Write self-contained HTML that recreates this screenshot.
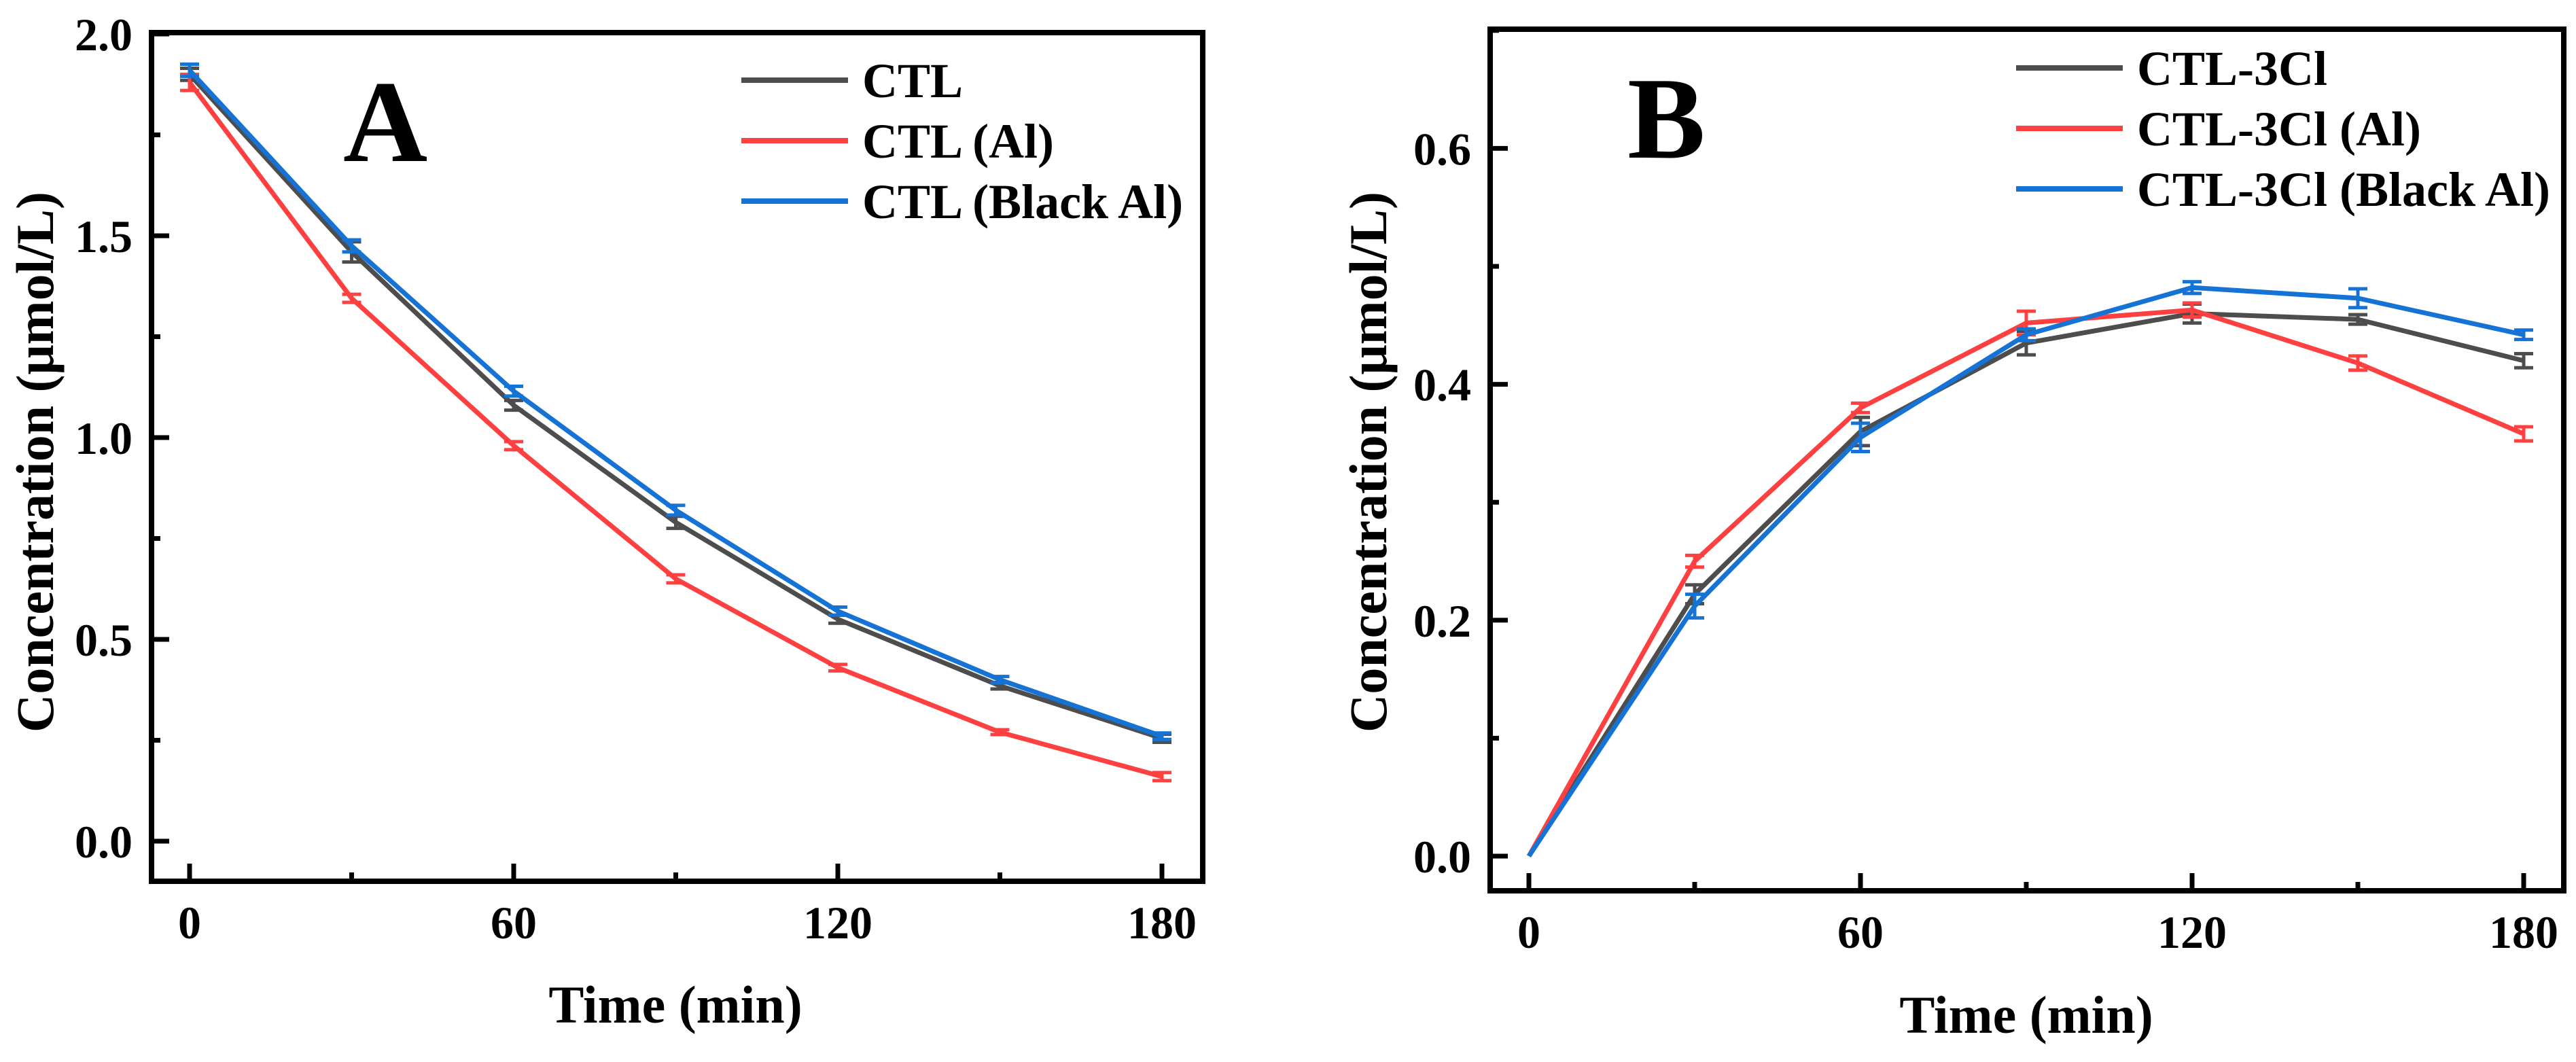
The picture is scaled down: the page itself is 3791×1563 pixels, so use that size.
<!DOCTYPE html>
<html><head><meta charset="utf-8">
<style>
html,body{margin:0;padding:0;background:#fff;}
svg{display:block;font-family:"Liberation Serif",serif;font-weight:bold;}
</style></head>
<body>
<svg id="fig" width="3791" height="1563" viewBox="0 0 3791 1563" xmlns="http://www.w3.org/2000/svg">
<rect width="3791" height="1563" fill="#fff"/>
</svg>
<script>
const timesMin = [0, 30, 60, 90, 120, 150, 180];
const aSeriesNames = ["CTL", "CTL (Al)", "CTL (Black Al)"];
const aCtl = [1.90, 1.46, 1.08, 0.79, 0.55, 0.385, 0.255];
const aAl = [1.88, 1.345, 0.98, 0.65, 0.43, 0.27, 0.16];
const aBlackAl = [1.91, 1.475, 1.115, 0.82, 0.57, 0.40, 0.26];
const aCtlErr = [0.015, 0.025, 0.012, 0.015, 0.01, 0.008, 0.01];
const aAlErr = [0.02, 0.01, 0.01, 0.01, 0.008, 0.006, 0.01];
const aBlackAlErr = [0.015, 0.015, 0.012, 0.012, 0.01, 0.008, 0.008];
const bSeriesNames = ["CTL-3Cl", "CTL-3Cl (Al)", "CTL-3Cl (Black Al)"];
const bCtl = [0, 0.222, 0.36, 0.435, 0.46, 0.455, 0.42];
const bAl = [0, 0.25, 0.38, 0.452, 0.463, 0.418, 0.358];
const bBlackAl = [0, 0.212, 0.355, 0.442, 0.482, 0.473, 0.442];
const bCtlErr = [0, 0.008, 0.012, 0.01, 0.008, 0.004, 0.006];
const bAlErr = [0, 0.005, 0.004, 0.01, 0.006, 0.006, 0.006];
const bBlackAlErr = [0, 0.01, 0.012, 0.005, 0.005, 0.008, 0.004];
const xTickLabels = ["0", "60", "120", "180"];
const aYTickLabels = ["0.0", "0.5", "1.0", "1.5", "2.0"];
const bYTickLabels = ["0.0", "0.2", "0.4", "0.6"];

const NS = "http://www.w3.org/2000/svg";
const svg = document.getElementById("fig");
const colors = ["#4d4d4d", "#ff4040", "#1673d6"];
function mk(tag, attrs, parent) {
  const e = document.createElementNS(NS, tag);
  for (const k in attrs) e.setAttribute(k, attrs[k]);
  (parent || svg).appendChild(e);
  return e;
}

function panel(cfg) {
  const g = mk("g", {});
  
  
  const xs = v => cfg.x0 + (v - 0) / 180 * (cfg.x180 - cfg.x0);
  const ys = v => cfg.y0 - v * cfg.yPerUnit;
  cfg.series.forEach((vals, si) => {
    const pts = vals.map((v, i) => xs(timesMin[i]) + "," + ys(v)).join(" ");
    const pl = mk("polyline", {points: pts, fill: "none", stroke: colors[si], "stroke-width": 7, "stroke-linejoin": "round"}, g);
    
    
    const errs = cfg.errs[si];
    vals.forEach((v, i) => {
      const e = errs[i];
      if (e <= 0) return;
      const x = xs(timesMin[i]);
      const eb = mk("path", {d: `M${x},${ys(v + e)}V${ys(v - e)}M${x - 14},${ys(v + e)}h28M${x - 14},${ys(v - e)}h28`, stroke: colors[si], "stroke-width": 5, fill: "none"}, g);
      
      
    });
  });
  const fr = mk("rect", {x: cfg.left, y: cfg.top, width: cfg.right - cfg.left, height: cfg.bottom - cfg.top, fill: "none", stroke: "#000", "stroke-width": 8}, g);
  
  
  for (let t = 0; t <= 180; t += 30) {
    const x = xs(t), major = t % 60 === 0;
    mk("line", {x1: x, x2: x, y1: cfg.bottom, y2: cfg.bottom - (major ? 26 : 13), stroke: "#000", "stroke-width": 7}, g);
  }
  xTickLabels.forEach(l => {
    const t = mk("text", {x: xs(+l), y: cfg.bottom + 84, "text-anchor": "middle", "font-size": 68}, g);
    t.textContent = l;
    
    
  });
  for (let v = 0; v <= cfg.yMax + 1e-9; v += cfg.yMinor) {
    const y = ys(v);
    const major = Math.abs(v / cfg.yMajor - Math.round(v / cfg.yMajor)) < 1e-6;
    mk("line", {x1: cfg.left, x2: cfg.left + (major ? 26 : 13), y1: y, y2: y, stroke: "#000", "stroke-width": 7}, g);
  }
  cfg.yLabels.forEach(l => {
    const t = mk("text", {x: cfg.left - 28, y: ys(+l) + 24, "text-anchor": "end", "font-size": 68}, g);
    t.textContent = l;
    
    
  });
  const xt = mk("text", {x: cfg.xTitleX, y: cfg.xTitleY, "text-anchor": "middle", "font-size": 78}, g);
  xt.textContent = "Time (min)";
  
  
  const yt = mk("text", {x: 0, y: 0, "text-anchor": "middle", "font-size": 78, transform: `translate(${cfg.yTitleX},${cfg.yTitleY}) rotate(-90)`}, g);
  yt.textContent = "Concentration (\u03bcmol/L)";
  
  
  const lt = mk("text", {x: cfg.letterX, y: cfg.letterY, "font-size": 172}, g);
  lt.textContent = cfg.letter;
  
  
  cfg.names.forEach((n, i) => {
    const y = cfg.legY + i * 89;
    const ll = mk("line", {x1: cfg.legX, x2: cfg.legX + 157, y1: y, y2: y, stroke: colors[i], "stroke-width": 8}, g);
    
    
    const tt = mk("text", {x: cfg.legX + 178, y: y + 25, "font-size": 72}, g);
    tt.textContent = n;
    
    
  });
}

panel({name: "panel-a", left: 223, right: 1770, top: 48, bottom: 1297,
  x0: 279, x180: 1710, y0: 1238, yPerUnit: 594, yMax: 2.0, yMajor: 0.5, yMinor: 0.25,
  series: [aCtl, aAl, aBlackAl], errs: [aCtlErr, aAlErr, aBlackAlErr], yLabels: aYTickLabels, names: aSeriesNames,
  xTitleX: 994, xTitleY: 1505, yTitleX: 78, yTitleY: 680, letter: "A", letterX: 505, letterY: 237,
  legX: 1091, legY: 118});
panel({name: "panel-b", left: 2193, right: 3773, top: 43, bottom: 1311,
  x0: 2250, x180: 3714, y0: 1260, yPerUnit: 1736, yMax: 0.7, yMajor: 0.2, yMinor: 0.1,
  series: [bCtl, bAl, bBlackAl], errs: [bCtlErr, bAlErr, bBlackAlErr], yLabels: bYTickLabels, names: bSeriesNames,
  xTitleX: 2982, xTitleY: 1520, yTitleX: 2040, yTitleY: 680, letter: "B", letterX: 2395, letterY: 232,
  legX: 2967, legY: 100});
</script>
</body></html>
